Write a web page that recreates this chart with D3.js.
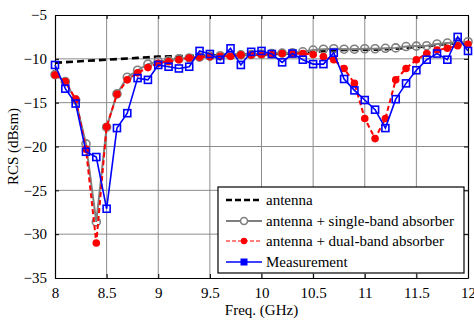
<!DOCTYPE html>
<html>
<head>
<meta charset="utf-8">
<script src="https://cdn.jsdelivr.net/npm/d3@7"></script>
<style>
  body { margin: 0; background: #fff; }
  svg, svg text { font-family: "Liberation Serif", "Times New Roman", Times, serif !important; fill: #000; }
</style>
</head>
<body>
<div class="chart"></div>
<script>
// Frequency points (GHz), 0.1 GHz step
var freqs = [8.0, 8.1, 8.2, 8.3, 8.4, 8.5, 8.6, 8.7, 8.8, 8.9,
  9.0, 9.1, 9.2, 9.3, 9.4, 9.5, 9.6, 9.7, 9.8, 9.9,
  10.0, 10.1, 10.2, 10.3, 10.4, 10.5, 10.6, 10.7, 10.8, 10.9,
  11.0, 11.1, 11.2, 11.3, 11.4, 11.5, 11.6, 11.7, 11.8, 11.9, 12.0];

// RCS values (dBsm)
var antenna = [-10.45, -10.38, -10.31, -10.24, -10.17, -10.1, -10.03, -9.96, -9.89, -9.82,
  -9.75, -9.72, -9.69, -9.66, -9.63, -9.6, -9.58, -9.56, -9.54, -9.52,
  -9.5, -9.45, -9.4, -9.35, -9.3, -9.2, -9.1, -9.05, -9.0, -9.0,
  -8.95, -8.95, -8.9, -8.85, -8.75, -8.65, -8.6, -8.4, -8.3, -8.2, -8.15];

var singleBand = [-11.8, -12.6, -14.7, -19.7, -28.6, -17.8, -14.0, -12.1, -11.3, -10.6,
  -10.3, -10.2, -10.0, -9.9, -9.8, -9.7, -9.65, -9.6, -9.55, -9.5,
  -9.45, -9.4, -9.35, -9.3, -9.2, -9.0, -8.9, -8.85, -8.9, -8.9,
  -8.85, -8.85, -8.8, -8.75, -8.6, -8.55, -8.5, -8.3, -8.2, -8.1, -8.05];

var dualBand = [-11.85, -12.6, -14.6, -20.3, -31.0, -17.75, -14.05, -12.4, -11.6, -11.0,
  -10.5, -10.3, -10.1, -9.9, -9.8, -9.75, -9.7, -9.7, -9.55, -9.55,
  -9.5, -9.5, -9.4, -9.4, -9.4, -9.5, -9.75, -10.1, -11.1, -12.8,
  -16.8, -19.1, -16.8, -12.4, -11.1, -10.1, -9.4, -9.0, -8.8, -8.5, -8.35];

var measurement = [-10.7, -13.4, -15.1, -20.6, -21.2, -27.1, -17.9, -16.2, -12.2, -12.4,
  -10.7, -10.9, -11.1, -10.9, -9.1, -9.45, -10.1, -8.8, -10.7, -9.2,
  -9.1, -9.45, -10.4, -9.4, -10.1, -10.6, -10.6, -9.3, -12.3, -13.6,
  -14.7, -15.8, -17.9, -14.6, -12.8, -11.3, -10.1, -9.4, -10.1, -7.5, -9.1];

var xTicks = [8, 8.5, 9, 9.5, 10, 10.5, 11, 11.5, 12];
var yTicks = [-35, -30, -25, -20, -15, -10, -5];
var legendLabels = ["antenna", "antenna + single-band absorber",
  "antenna + dual-band absorber", "Measurement"];

var serif = "'Liberation Serif', 'Times New Roman', Times, serif";

var svgWidth = 474, svgHeight = 320;
var margin = { top: 15, right: 6, bottom: 42, left: 55 };
var width = svgWidth - margin.left - margin.right;
var height = svgHeight - margin.top - margin.bottom;

var svg = d3.select(".chart").append("svg")
  .attr("width", svgWidth)
  .attr("height", svgHeight)
  .attr("font-family", serif);

var chartGroup = svg.append("g")
  .attr("transform", `translate(${margin.left}, ${margin.top})`);

var x = d3.scaleLinear().domain([8, 12]).range([0, width]);
var y = d3.scaleLinear().domain([-35, -5]).range([height, 0]);

// grid
chartGroup.append("g").selectAll("line.vg")
  .data(xTicks.slice(1, -1)).enter().append("line")
  .attr("x1", d => x(d)).attr("x2", d => x(d))
  .attr("y1", 0).attr("y2", height)
  .attr("stroke", "#8c8c8c").attr("stroke-width", 1);
chartGroup.append("g").selectAll("line.hg")
  .data(yTicks.slice(1, -1)).enter().append("line")
  .attr("x1", 0).attr("x2", width)
  .attr("y1", d => y(d)).attr("y2", d => y(d))
  .attr("stroke", "#8c8c8c").attr("stroke-width", 1);

// axes (ticks pointing inward, MATLAB style)
var fmt = d3.format("~g");
var bottomAxis = d3.axisBottom(x).tickValues(xTicks).tickFormat(fmt).tickSizeInner(-4).tickSizeOuter(0).tickPadding(9);
var topAxis = d3.axisTop(x).tickValues(xTicks).tickSizeInner(-4).tickSizeOuter(0).tickFormat("");
var leftAxis = d3.axisLeft(y).tickValues(yTicks).tickFormat(fmt).tickSizeInner(-4).tickSizeOuter(0).tickPadding(8);
var rightAxis = d3.axisRight(y).tickValues(yTicks).tickSizeInner(-4).tickSizeOuter(0).tickFormat("");

function styleAxis(g) {
  g.attr("font-family", serif).attr("font-size", 15);
  g.select(".domain").attr("stroke", "#000").attr("stroke-width", 1.2);
  g.selectAll(".tick line").attr("stroke", "#000");
  g.selectAll(".tick text").attr("fill", "#000");
}

chartGroup.append("g").attr("transform", `translate(0, ${height})`).call(bottomAxis).call(styleAxis);
chartGroup.append("g").call(topAxis).call(styleAxis);
chartGroup.append("g").call(leftAxis).call(styleAxis);
chartGroup.append("g").attr("transform", `translate(${width}, 0)`).call(rightAxis).call(styleAxis);

// axis labels
chartGroup.append("text")
  .attr("x", width / 2).attr("y", height + 37)
  .attr("text-anchor", "middle")
  .attr("font-size", 15)
  .text("Freq. (GHz)");

chartGroup.append("text")
  .attr("transform", "rotate(-90)")
  .attr("x", -height / 2).attr("y", -37)
  .attr("text-anchor", "middle")
  .attr("font-size", 15)
  .text("RCS (dBsm)");

var line = d3.line().x((d, i) => x(freqs[i])).y(d => y(d));

// antenna
chartGroup.append("path").datum(antenna)
  .attr("d", line).attr("fill", "none")
  .attr("stroke", "#000").attr("stroke-width", 2.6)
  .attr("stroke-dasharray", "7,4");

// single-band
chartGroup.append("path").datum(singleBand)
  .attr("d", line).attr("fill", "none")
  .attr("stroke", "#7f7f7f").attr("stroke-width", 2);
chartGroup.append("g").selectAll("circle")
  .data(singleBand).enter().append("circle")
  .attr("cx", (d, i) => x(freqs[i])).attr("cy", d => y(d))
  .attr("r", 4).attr("fill", "none")
  .attr("stroke", "#7f7f7f").attr("stroke-width", 1.6);

// dual-band
chartGroup.append("path").datum(dualBand)
  .attr("d", line).attr("fill", "none")
  .attr("stroke", "#ff0000").attr("stroke-width", 2)
  .attr("stroke-dasharray", "5,3");
chartGroup.append("g").selectAll("circle")
  .data(dualBand).enter().append("circle")
  .attr("cx", (d, i) => x(freqs[i])).attr("cy", d => y(d))
  .attr("r", 3.8).attr("fill", "#ff0000");

// measurement
chartGroup.append("path").datum(measurement)
  .attr("d", line).attr("fill", "none")
  .attr("stroke", "#0000ff").attr("stroke-width", 1.6);
chartGroup.append("g").selectAll("rect")
  .data(measurement).enter().append("rect")
  .attr("x", (d, i) => x(freqs[i]) - 3.5).attr("y", d => y(d) - 3.5)
  .attr("width", 7).attr("height", 7)
  .attr("fill", "none")
  .attr("stroke", "#0000ff").attr("stroke-width", 1.6);

// legend
var legend = svg.append("g").attr("transform", "translate(218, 187)");
legend.append("rect")
  .attr("width", 246).attr("height", 86)
  .attr("fill", "#fff").attr("stroke", "#000").attr("stroke-width", 1.2);

var rowY = [13, 34, 54, 75];
var items = legend.selectAll("g.item")
  .data(legendLabels).enter().append("g")
  .attr("transform", (d, i) => `translate(0, ${rowY[i]})`);

items.append("text")
  .attr("x", 48).attr("y", 5)
  .attr("font-size", 15)
  .text(d => d);

items.each(function(d, i) {
  var g = d3.select(this);
  var l = g.append("line").attr("x1", 8).attr("x2", 44).attr("y1", 0).attr("y2", 0);
  if (i === 0) {
    l.attr("stroke", "#000").attr("stroke-width", 2.5).attr("stroke-dasharray", "6,3");
  } else if (i === 1) {
    l.attr("stroke", "#7f7f7f").attr("stroke-width", 2);
    g.append("circle").attr("cx", 26).attr("cy", 0).attr("r", 3.5)
      .attr("fill", "#fff").attr("stroke", "#7f7f7f").attr("stroke-width", 1.6);
  } else if (i === 2) {
    l.attr("stroke", "#ff0000").attr("stroke-width", 1.2).attr("stroke-dasharray", "4,2");
    g.append("circle").attr("cx", 26).attr("cy", 0).attr("r", 3.2).attr("fill", "#ff0000");
  } else {
    l.attr("stroke", "#0000ff").attr("stroke-width", 1.6);
    g.append("rect").attr("x", 22.5).attr("y", -3.5).attr("width", 7).attr("height", 7)
      .attr("fill", "#0000ff");
  }
});
</script>
</body>
</html>
